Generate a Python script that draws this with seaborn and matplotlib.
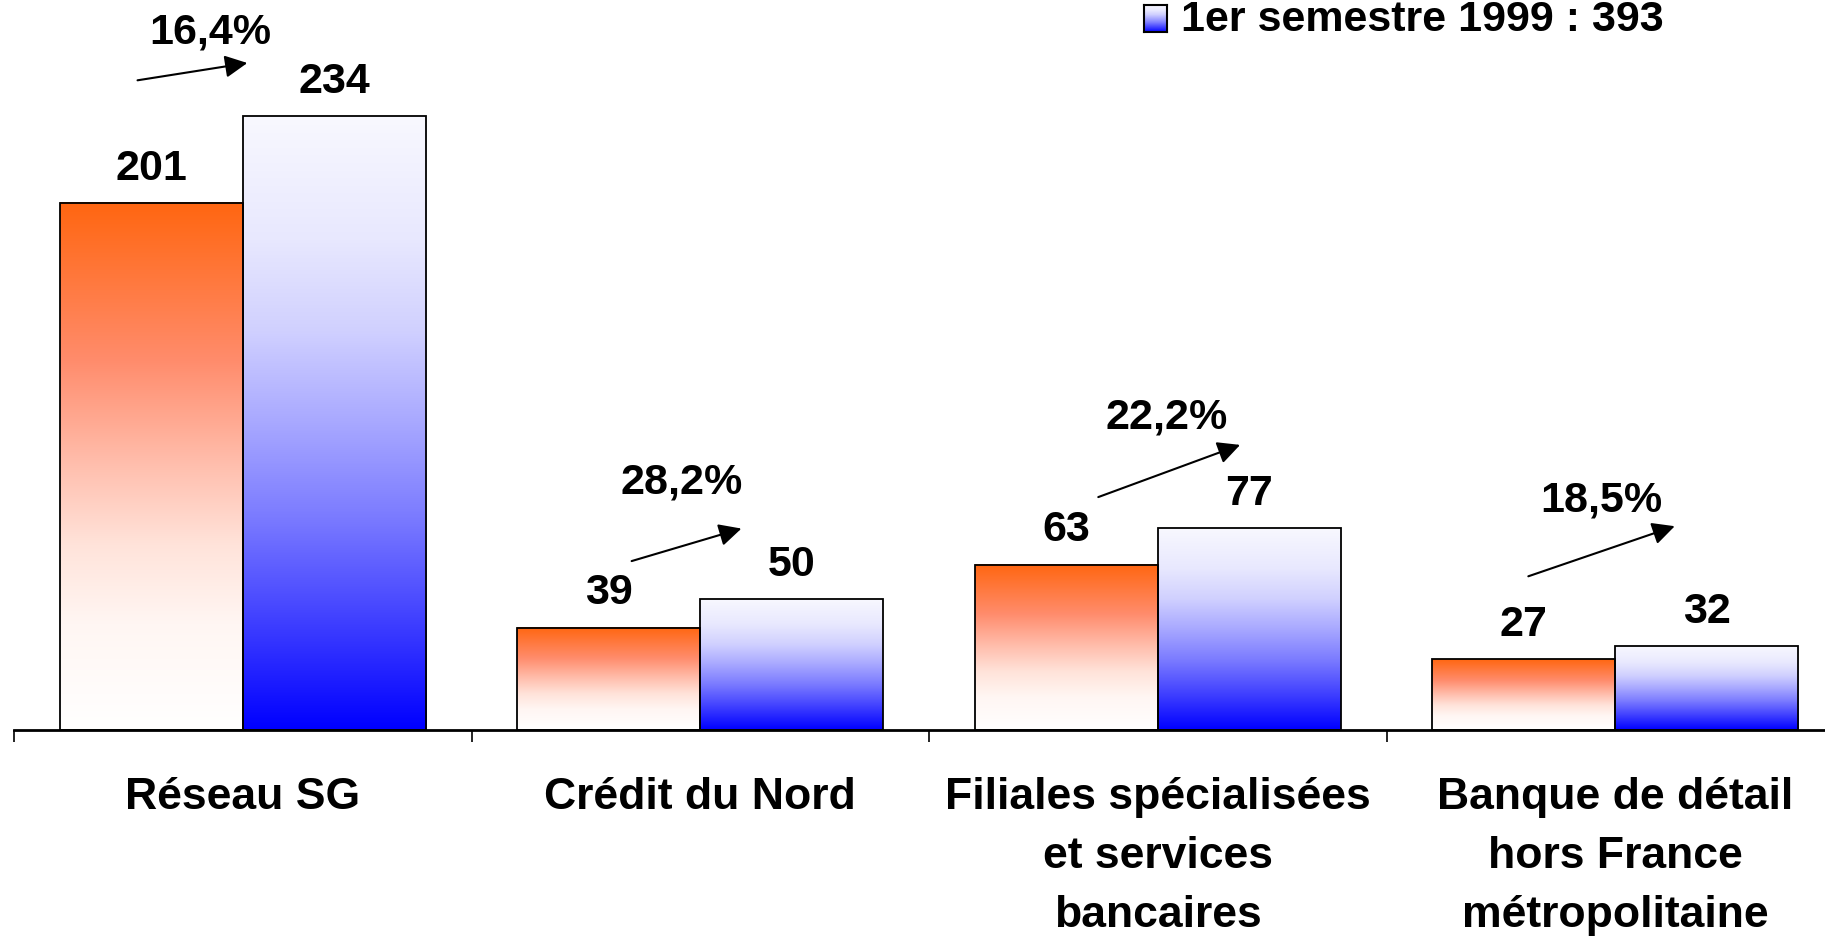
import numpy as np
import pandas as pd
import seaborn as sns
import matplotlib
matplotlib.use("Agg")
import matplotlib.pyplot as plt
from matplotlib.colors import LinearSegmentedColormap

# data
categories = ["Réseau SG", "Crédit du Nord",
              "Filiales spécialisées\net services\nbancaires",
              "Banque de détail\nhors France\nmétropolitaine"]
s1998 = [201, 39, 63, 27]
s1999 = [234, 50, 77, 32]
growth = ["16,4%", "28,2%", "22,2%", "18,5%"]
periods = ["1er semestre 1998", "1er semestre 1999"]

# where the growth labels / arrows sit (data coords)
growth_text_pos = [(-0.07, 266.3), (0.96, 94.6), (2.02, 119.4), (2.97, 88.0)]
arrow_start = [(-0.23, 247.7), (0.85, 64.4), (1.87, 88.8), (2.81, 58.6)]
arrow_end = [(0.01, 254.3), (1.09, 76.8), (2.18, 108.7), (3.13, 77.7)]

df = pd.DataFrame({
    "categorie": categories * 2,
    "valeur": s1998 + s1999,
    "periode": [periods[0]] * 4 + [periods[1]] * 4,
})

sns.set_style("white")
plt.rcParams["font.family"] = ["Liberation Sans", "DejaVu Sans"]
plt.rcParams["font.weight"] = "bold"
plt.rcParams["text.color"] = "black"
plt.rcParams["xtick.color"] = "black"

fig = plt.figure(figsize=(18.25, 9.37), dpi=100)
ax = fig.add_axes([14 / 1825, 206 / 937, 1830 / 1825, 731 / 937])

sns.barplot(data=df, x="categorie", y="valeur", hue="periode",
            palette=["#FF6611", "#0000FF"], saturation=1, width=0.8,
            edgecolor="black", linewidth=1.3, legend=False, ax=ax)

# gradient fill for the bars (bottom -> top)
cm_orange = LinearSegmentedColormap.from_list("o", [
    (0.0, "#FFFFFF"), (0.2, "#FFF6F3"), (0.35, "#FFE3DA"),
    (0.5, "#FFBFAE"), (0.7, "#FF8C6C"), (1.0, "#FF6611")])
cm_blue = LinearSegmentedColormap.from_list("b", [
    (0.0, "#0000FF"), (0.2, "#4848FF"), (0.35, "#7C7CFF"),
    (0.5, "#A8A8FF"), (0.65, "#D0D0FF"), (0.8, "#E8E8FE"), (1.0, "#F8F8FF")])
grad = np.linspace(0, 1, 256).reshape(-1, 1)
for container, cmap in zip(ax.containers, [cm_orange, cm_blue]):
    for bar in container:
        x0, y0 = bar.get_x(), bar.get_y()
        w, h = bar.get_width(), bar.get_height()
        ax.imshow(grad, cmap=cmap, origin="lower", aspect="auto",
                  extent=[x0, x0 + w, y0, y0 + h], zorder=0.9)
        bar.set_facecolor("none")
        bar.set_zorder(1)
    ax.bar_label(container, fontsize=31, fontweight="bold", padding=11)

ax.set_xlim(-0.5, 3.5)
ax.set_ylim(0, 278.7)

for i in range(len(growth)):
    ax.text(growth_text_pos[i][0], growth_text_pos[i][1], growth[i],
            ha="center", va="center", fontsize=31, fontweight="bold")
    ax.annotate("", xy=arrow_end[i], xytext=arrow_start[i],
                arrowprops=dict(arrowstyle="-|>", color="black", lw=1.5,
                                mutation_scale=34, shrinkA=0, shrinkB=0))

for s in ["top", "right", "left"]:
    ax.spines[s].set_visible(False)
ax.spines["bottom"].set_color("black")
ax.spines["bottom"].set_linewidth(2)
ax.set_yticks([])
ax.set_xlabel("")
ax.set_ylabel("")
ax.set_xticks(range(len(categories)))
ax.set_xticklabels(categories, fontsize=32, fontweight="bold", linespacing=1.57)
ax.set_xticks([-0.5, 0.5, 1.5, 2.5, 3.5], minor=True)
ax.tick_params(axis="x", which="major", length=0, pad=33)
ax.tick_params(axis="x", which="minor", length=8.5, width=1.2, color="black",
               direction="out", bottom=True)

# legend (only the 1999 entry is visible in the picture)
lax = fig.add_axes([1144 / 1825, 1 - 33 / 937, 23 / 1825, 27 / 937])
lax.imshow(grad, cmap=cm_blue, origin="lower", aspect="auto")
lax.set_xticks([])
lax.set_yticks([])
for s in lax.spines.values():
    s.set_color("black")
    s.set_linewidth(1.5)
fig.text(1181 / 1825, 1 - 20 / 937, periods[1] + " : " + str(sum(s1999)),
         ha="left", va="center", fontsize=31, fontweight="bold")

fig.savefig("out.png", dpi=100)
